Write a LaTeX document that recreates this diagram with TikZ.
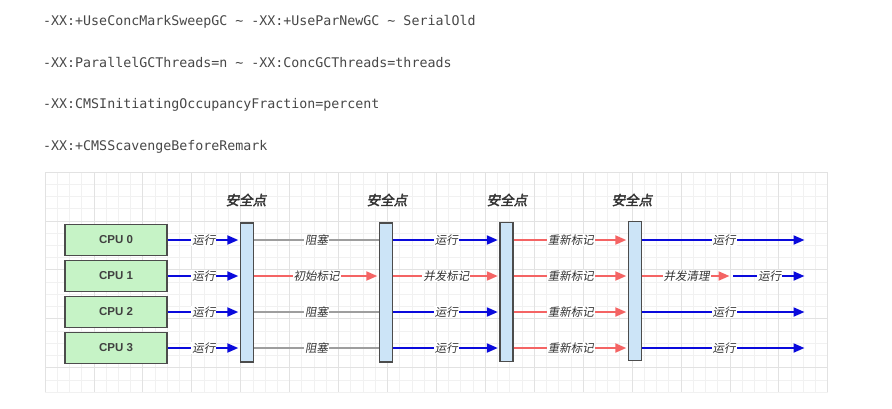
\documentclass[tikz,border=0pt]{standalone}
\usepackage{fontspec}
\usepackage{tikz}
\usetikzlibrary{arrows.meta}
\setsansfont{Liberation Sans}
\setmonofont{DejaVu Sans Mono}
\newfontfamily\cjk[AutoFakeBold=2.5,AutoFakeSlant=0.18]{Noto Sans CJK SC}

\definecolor{runblue}{HTML}{0A0ADC}
\definecolor{markred}{HTML}{F46464}
\definecolor{waitgray}{HTML}{9E9E9E}
\definecolor{cpugreen}{HTML}{C6F3C6}
\definecolor{barblue}{HTML}{CCE4F7}
\definecolor{gridminor}{HTML}{F1F1F1}
\definecolor{gridmajor}{HTML}{E2E2E2}
\definecolor{optgray}{HTML}{474747}

\tikzset{
  cpubox/.style={draw=black!70, fill=cpugreen, line width=1.4pt, minimum width=102pt,
    minimum height=31pt, font=\sffamily\bfseries\fontsize{11.5}{13}\selectfont, text=black!75},
  sbar/.style={draw=black!70, fill=barblue, line width=1.4pt, minimum width=13pt, minimum height=139pt},
  sptitle/.style={font=\cjk\bfseries\itshape\fontsize{13.5}{15}\selectfont, text=black!80},
  tag/.style={fill=white, inner sep=1pt, font=\cjk\itshape\fontsize{11.5}{13}\selectfont, text=black!80},
  optline/.style={anchor=base west, inner sep=0pt, font=\ttfamily\fontsize{13.3}{16}\selectfont, text=optgray},
  runline/.style={draw=runblue, line width=2pt, -{Triangle[length=11pt,width=9pt]}, shorten >=1.5pt},
  redline/.style={draw=markred, line width=2pt, -{Triangle[length=11pt,width=9pt]}, shorten >=1.5pt},
  waitline/.style={draw=waitgray, line width=2pt}
}

\begin{document}
\begin{tikzpicture}[x=1pt,y=-1pt]
  \useasboundingbox (0,0) rectangle (892,408);

  \node[optline] (opt1) at (43,25) {-XX:+UseConcMarkSweepGC \textasciitilde{} -XX:+UseParNewGC \textasciitilde{} SerialOld};
  \node[optline] (opt2) at (43,67) {-XX:ParallelGCThreads=n \textasciitilde{} -XX:ConcGCThreads=threads};
  \node[optline] (opt3) at (43,108.5) {-XX:CMSInitiatingOccupancyFraction=percent};
  \node[optline] (opt4) at (43,150) {-XX:+CMSScavengeBeforeRemark};

  \foreach \k in {0,...,64}
    \draw[gridminor, line width=0.7pt] ({45+\k*12.23},172) -- ({45+\k*12.23},392.1);
  \foreach \k in {0,...,18}
    \draw[gridminor, line width=0.7pt] (45,{172+\k*12.23}) -- (827.7,{172+\k*12.23});
  \foreach \k in {0,4,...,64}
    \draw[gridmajor, line width=0.7pt] ({45+\k*12.23},172) -- ({45+\k*12.23},392.1);
  \foreach \k in {0,4,...,16}
    \draw[gridmajor, line width=0.7pt] (45,{172+\k*12.23}) -- (827.7,{172+\k*12.23});

  \foreach \i/\y in {0/240,1/276,2/312,3/348}
    \node[cpubox] (cpu\i) at (116,\y) {CPU \i};

  \node[sbar] (s1) at (247,292.5) {};
  \node[sbar] (s2) at (386,292.5) {};
  \node[sbar] (s3) at (506.5,292) {};
  \node[sbar] (s4) at (635,291) {};
  \node[sptitle] (t1) at (246,200) {安全点};
  \node[sptitle] (t2) at (387,200) {安全点};
  \node[sptitle] (t3) at (507,200) {安全点};
  \node[sptitle] (t4) at (632,200) {安全点};

  \coordinate (endx) at (806,0);
  \coordinate (sweep) at (731,276);

  \foreach \i in {0,...,3}
    \draw[runline] (cpu\i.east) -- (cpu\i.east -| s1.west) node[tag,midway] {运行};

  \foreach \i in {0,2,3}
    \draw[waitline] (cpu\i.east -| s1.east) -- (cpu\i.east -| s2.west) node[tag,midway] {阻塞};
  \draw[redline] (cpu1.east -| s1.east) -- (cpu1.east -| s2.west) node[tag,midway] {初始标记};

  \foreach \i in {0,2,3}
    \draw[runline] (cpu\i.east -| s2.east) -- (cpu\i.east -| s3.west) node[tag,midway] {运行};
  \draw[redline] (cpu1.east -| s2.east) -- (cpu1.east -| s3.west) node[tag,midway] {并发标记};

  \foreach \i in {0,...,3}
    \draw[redline] (cpu\i.east -| s3.east) -- (cpu\i.east -| s4.west) node[tag,midway] {重新标记};

  \foreach \i in {0,2,3}
    \draw[runline] (cpu\i.east -| s4.east) -- (cpu\i.east -| endx) node[tag,midway] {运行};
  \draw[redline] (cpu1.east -| s4.east) -- (sweep) node[tag,midway] {并发清理};
  \draw[runline] ([xshift=2pt]sweep) -- (cpu1.east -| endx) node[tag,midway] {运行};
\end{tikzpicture}
\end{document}
